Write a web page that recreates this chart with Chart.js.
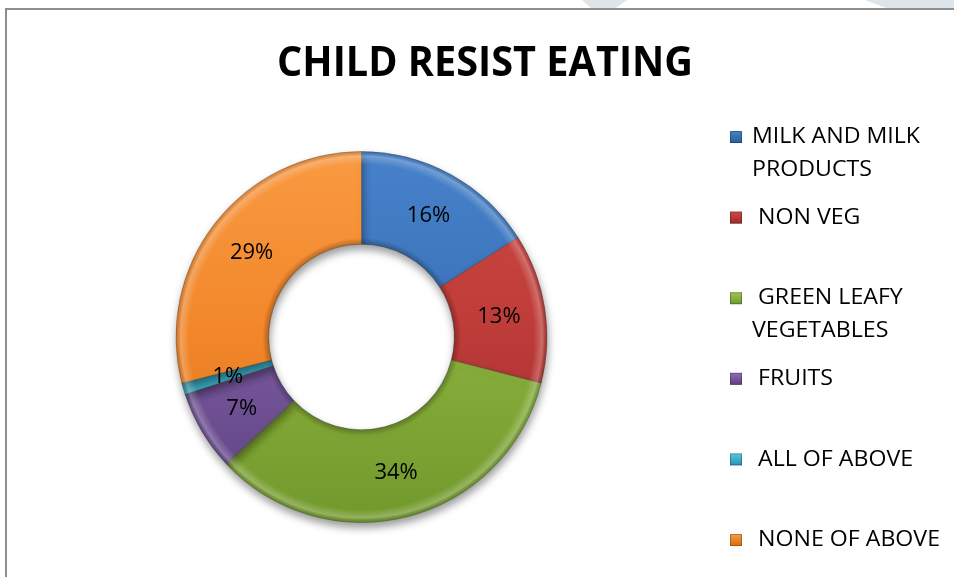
<!DOCTYPE html>
<html>
<head>
<meta charset="utf-8">
<title>Child Resist Eating</title>
<script src="https://cdn.jsdelivr.net/npm/chart.js@4.4.1/dist/chart.umd.min.js"></script>
<style>
  html, body { margin: 0; padding: 0; background: #fff; }
  #wrap { position: relative; width: 954px; height: 577px; overflow: hidden; }
  #frame {
    position: absolute; left: 5px; top: 8px; right: -10px; bottom: -10px;
    border-left: 2px solid #8e8e8e; border-top: 2px solid #8e8e8e;
  }
  .wm { position: absolute; top: 0; height: 8px; background: #dde5ea; }
  #wm1 { left: 582px; width: 45px; clip-path: polygon(0 0, 100% 0, 75% 100%, 20% 100%); }
  #wm2 { left: 865px; width: 140px; clip-path: polygon(0 0, 100% 0, 100% 100%, 15% 100%); }
  #chart { position: absolute; left: 0; top: 0; }
</style>
</head>
<body>
<div id="wrap">
  <div class="wm" id="wm1"></div>
  <div class="wm" id="wm2"></div>
  <div id="frame"></div>
  <canvas id="chart" width="954" height="577"></canvas>
</div>
<script>
const chartTitle = 'CHILD RESIST EATING';
const categories = ['MILK AND MILK PRODUCTS', 'NON VEG', 'GREEN LEAFY VEGETABLES', 'FRUITS', 'ALL OF ABOVE', 'NONE OF ABOVE'];
// legend text as it is wrapped in the side panel
const legendLines = [['MILK AND MILK', 'PRODUCTS'], [' NON VEG'], [' GREEN LEAFY', 'VEGETABLES'], [' FRUITS'], [' ALL OF ABOVE'], [' NONE OF ABOVE']];
const percents = [16, 13, 34, 7, 1, 29];

const baseColors = ['#3A71B6', '#BD3B38', '#8AB03D', '#79599F', '#3CB1CB', '#F28629'];
const lightColors = ['#4682CB', '#D24A46', '#A0C554', '#8F6EB6', '#5BC8E0', '#F99A42'];
const darkColors = ['#2D5C96', '#982C2A', '#71982B', '#5C417F', '#2A91A9', '#D46E17'];

const FONT = "'Open Sans', Lato, sans-serif";

function sliceFill(context) {
  const chart = context.chart;
  const area = chart.chartArea;
  const i = context.dataIndex;
  if (!area) return baseColors[i];
  const g = chart.ctx.createLinearGradient(0, area.top, 0, area.bottom);
  g.addColorStop(0, lightColors[i]);
  g.addColorStop(0.5, baseColors[i]);
  g.addColorStop(1, darkColors[i]);
  return g;
}

// draws text squeezed or stretched to a given width
function fitText(ctx, text, x, y, width) {
  const w = ctx.measureText(text).width;
  ctx.save();
  ctx.translate(x, y);
  ctx.scale(width / w, 1);
  ctx.fillText(text, 0, 0);
  ctx.restore();
}

// soft shadow under the ring
const shadowPlugin = {
  id: 'ringShadow',
  beforeDatasetsDraw(chart) {
    const ctx = chart.ctx;
    ctx.save();
    ctx.shadowColor = 'rgba(0,0,0,0.4)';
    ctx.shadowBlur = 9;
    ctx.shadowOffsetX = 1;
    ctx.shadowOffsetY = 5;
  },
  afterDatasetsDraw(chart) {
    chart.ctx.restore();
  }
};

// bevel highlight along the inner and outer edge of every slice
const bevelPlugin = {
  id: 'bevel',
  afterDatasetsDraw(chart) {
    const ctx = chart.ctx;
    const meta = chart.getDatasetMeta(0);
    meta.data.forEach(arc => {
      const p = arc.getProps(['x', 'y', 'startAngle', 'endAngle', 'innerRadius', 'outerRadius'], true);
      const g = ctx.createRadialGradient(p.x, p.y, p.innerRadius, p.x, p.y, p.outerRadius);
      g.addColorStop(0, 'rgba(0,0,0,0.25)');
      g.addColorStop(0.07, 'rgba(0,0,0,0.0)');
      g.addColorStop(0.86, 'rgba(255,255,255,0.0)');
      g.addColorStop(0.95, 'rgba(255,255,255,0.25)');
      g.addColorStop(1, 'rgba(0,0,0,0.12)');
      ctx.save();
      ctx.beginPath();
      ctx.arc(p.x, p.y, p.outerRadius, p.startAngle, p.endAngle);
      ctx.arc(p.x, p.y, p.innerRadius, p.endAngle, p.startAngle, true);
      ctx.closePath();
      ctx.fillStyle = g;
      ctx.fill();
      ctx.restore();
    });
  }
};

// percentage labels at the middle of each slice
const labelPlugin = {
  id: 'sliceLabels',
  afterDraw(chart) {
    const ctx = chart.ctx;
    const meta = chart.getDatasetMeta(0);
    ctx.save();
    ctx.font = '22px ' + FONT;
    ctx.fillStyle = '#000';
    ctx.textAlign = 'center';
    ctx.textBaseline = 'middle';
    meta.data.forEach((arc, i) => {
      const pos = arc.tooltipPosition();
      ctx.fillText(percents[i] + '%', pos.x, pos.y + 1);
    });
    ctx.restore();
  }
};

// title and side legend
const panelPlugin = {
  id: 'panel',
  afterDraw(chart) {
    const ctx = chart.ctx;
    ctx.save();
    ctx.fillStyle = '#000';
    ctx.textAlign = 'left';
    ctx.textBaseline = 'alphabetic';
    ctx.font = 'bold 42px ' + FONT;
    fitText(ctx, chartTitle, 277, 76, 416);

    ctx.font = '22px ' + FONT;
    ctx.textBaseline = 'middle';
    const refW = ctx.measureText(legendLines[0][0]).width;
    const sx = 168 / refW;
    legendLines.forEach((lines, i) => {
      const y = 137 + i * 80.6;
      const g = ctx.createLinearGradient(0, y - 6, 0, y + 6);
      g.addColorStop(0, lightColors[i]);
      g.addColorStop(1, darkColors[i]);
      ctx.fillStyle = g;
      ctx.fillRect(730, y - 6, 12, 12);
      ctx.strokeStyle = 'rgba(0,0,0,0.25)';
      ctx.lineWidth = 1;
      ctx.strokeRect(730.5, y - 5.5, 11, 11);
      ctx.fillStyle = '#000';
      lines.forEach((t, k) => fitText(ctx, t, 752, y + k * 33, ctx.measureText(t).width * sx));
    });
    ctx.restore();
  }
};

new Chart(document.getElementById('chart'), {
  type: 'doughnut',
  data: {
    labels: categories,
    datasets: [{
      data: percents,
      backgroundColor: sliceFill,
      borderColor: 'rgba(60,60,60,0.35)',
      borderWidth: 1
    }]
  },
  options: {
    responsive: false,
    animation: false,
    cutout: '50%',
    layout: { padding: { left: 175, right: 406, top: 151, bottom: 54 } },
    plugins: {
      legend: { display: false },
      title: { display: false },
      tooltip: { enabled: false }
    }
  },
  plugins: [shadowPlugin, bevelPlugin, labelPlugin, panelPlugin]
});
</script>
</body>
</html>
